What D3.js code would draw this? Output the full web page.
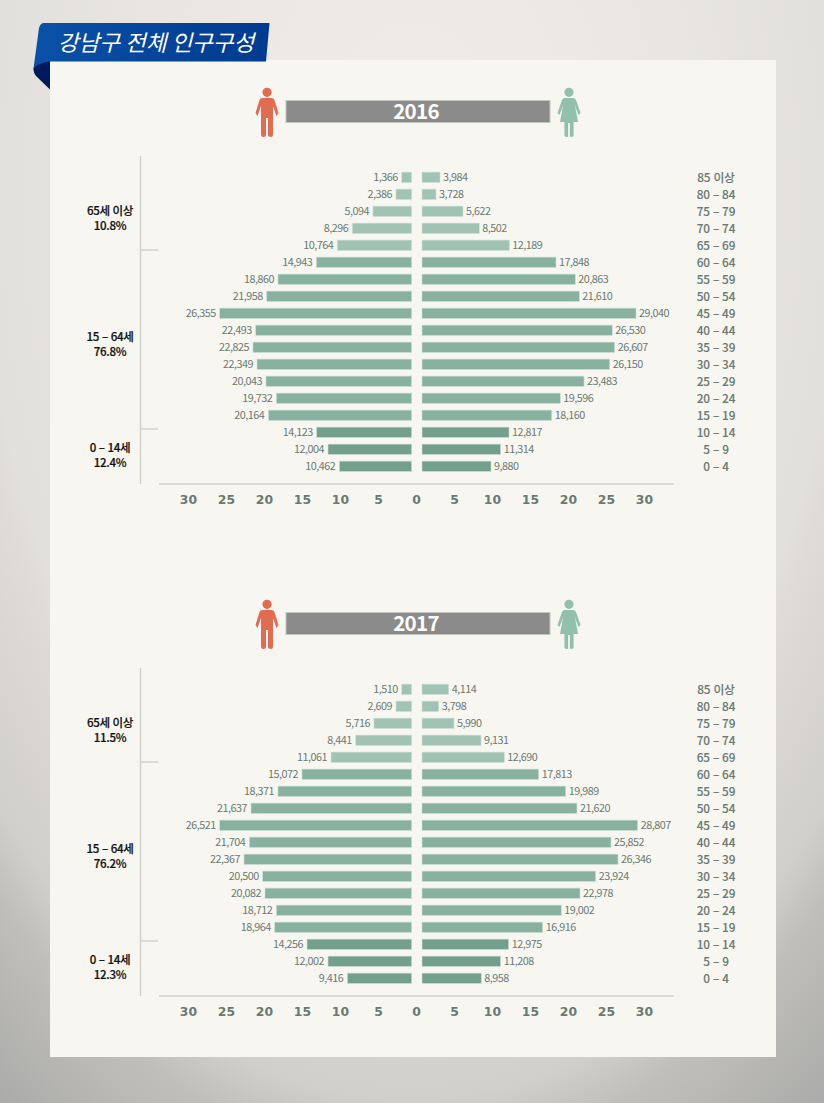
<!DOCTYPE html>
<html>
<head>
<meta charset="utf-8">
<script src="https://d3js.org/d3.v7.min.js"></script>
<style>
html, body { margin: 0; padding: 0; background: #d8d6d2; }
svg { display: block; }
text { font-family: "Noto Sans CJK KR", "Noto Sans", sans-serif; }
</style>
</head>
<body>
<div id="chart"></div>
<script>
var ages = ["85 이상","80 – 84","75 – 79","70 – 74","65 – 69","60 – 64","55 – 59","50 – 54","45 – 49",
            "40 – 44","35 – 39","30 – 34","25 – 29","20 – 24","15 – 19","10 – 14","5 – 9","0 – 4"];
var ticks = [-30,-25,-20,-15,-10,-5,0,5,10,15,20,25,30];

// printed numbers
var male2016 = [1366,2386,5094,8296,10764,14943,18860,21958,26355,22493,22825,22349,20043,19732,20164,14123,12004,10462];
var female2016 = [3984,3728,5622,8502,12189,17848,20863,21610,29040,26530,26607,26150,23483,19596,18160,12817,11314,9880];
var male2017 = [1510,2609,5716,8441,11061,15072,18371,21637,26521,21704,22367,20500,20082,18712,18964,14256,12002,9416];
var female2017 = [4114,3798,5990,9131,12690,17813,19989,21620,28807,25852,26346,23924,22978,19002,16916,12975,11208,8958];

// bar lengths as read against the axis (thousands) - the bars don't follow the printed numbers exactly
var maleBar2016 = [1.88,2.63,5.66,8.38,10.36,13.12,18.16,19.64,25.83,21.09,21.45,20.92,19.74,18.38,19.43,13.07,11.58,10.09];
var femaleBar2016 = [3.16,2.63,6.18,8.33,12.28,18.42,20.96,21.49,28.95,25.83,26.14,25.49,22.11,18.99,17.86,12.24,11.14,9.87];
var maleBar2017 = [1.88,2.63,5.53,7.93,11.18,15.0,18.16,21.71,25.83,21.93,22.63,20.17,19.87,18.38,18.59,14.34,11.58,9.04];
var femaleBar2017 = [4.3,2.99,5.0,8.55,11.62,16.14,19.7,21.18,29.17,25.66,26.58,23.64,21.58,19.12,16.67,12.2,11.14,8.59];

var groups2016 = [["65세 이상","10.8%"],["15 – 64세","76.8%"],["0 – 14세","12.4%"]];
var groups2017 = [["65세 이상","11.5%"],["15 – 64세","76.2%"],["0 – 14세","12.3%"]];

var svg = d3.select("#chart").append("svg").attr("width",824).attr("height",1103);
var defs = svg.append("defs");

// page background is a soft vignette, darkest in the bottom corners
var bg = defs.append("radialGradient").attr("id","bg").attr("gradientUnits","userSpaceOnUse")
  .attr("cx",0).attr("cy",0).attr("r",1.3)
  .attr("gradientTransform","translate(412,200) scale(560,900)");
[[0,"#efece8"],[27,"#ece9e5"],[59,"#e2e0dc"],[62,"#dedbd8"],[77,"#d1cfca"],[82,"#c0bfbc"],[95,"#acacaa"],[100,"#a8a8a6"]].forEach(function(s){
  bg.append("stop").attr("offset",s[0] + "%").attr("stop-color",s[1]);
});
var ban = defs.append("linearGradient").attr("id","banner").attr("x1",0).attr("y1",0).attr("x2",1).attr("y2",0);
ban.append("stop").attr("offset","0%").attr("stop-color","#0a51a8");
ban.append("stop").attr("offset","100%").attr("stop-color","#003a8e");

svg.append("rect").attr("width",824).attr("height",1103).attr("fill","url(#bg)");
svg.append("rect").attr("x",50).attr("y",60).attr("width",726).attr("height",997).attr("fill","#f7f6f1");

// ribbon
svg.append("path").attr("d","M50,60 L40,60 L33.5,68 Q33,73 37,77 L50,89.5 Z").attr("fill","#001a5e");
svg.append("path").attr("d","M43,23 L269.5,23 L266,61.5 L50,61.5 Q40,62 33.5,68.5 L39,28 Q40,24 43,23 Z").attr("fill","url(#banner)");
svg.append("text").attr("x",156).attr("y",42.5).attr("dy","0.36em").attr("text-anchor","middle")
  .attr("fill","#fff").attr("font-size",22.5).attr("font-style","italic").text("강남구 전체 인구구성");

var x = d3.scaleLinear().domain([-30,30]).range([188,644]);
var y = d3.scaleBand().domain(ages).range([0,306]).paddingInner(0.39).paddingOuter(0.195);
var fmt = d3.format(",");
var maleBase = 411.7, femaleBase = 422;

function barColor(i){
  if (i < 5) return "#a0c3b6";
  if (i < 15) return "#89b1a0";
  return "#759f8d";
}

function person(g, cx, color, female){
  g = g.append("g").attr("transform","translate(" + cx + ",0)").attr("fill",color);
  g.append("circle").attr("cx",0).attr("cy",92.3).attr("r",4.6);
  if (female){
    g.append("path").attr("d","M-4.5,98 L4.5,98 Q6,98 7,100 L11.5,113 L9.5,115 L6,105.5 L9,122 L2.6,122 L2.6,135 Q2.6,137 0.9,137 L0.9,123 L-0.9,123 L-0.9,137 Q-2.6,137 -2.6,135 L-2.6,122 L-9,122 L-6,105.5 L-9.5,115 L-11.5,113 L-7,100 Q-6,98 -4.5,98 Z");
    g.append("path").attr("d","M-4.6,121 L-1,121 L-1,135 Q-1,137 -2.8,137 Q-4.6,137 -4.6,135 Z M1,121 L4.6,121 L4.6,135 Q4.6,137 2.8,137 Q1,137 1,135 Z");
  } else {
    g.append("path").attr("d","M-4.5,98 L4.5,98 Q6.5,98 7.5,100 L11.5,113 L9.5,116 L6,106 L6,135 Q6,137 3.6,137 Q1,137 1,135 L1,118 L-1,118 L-1,135 Q-1,137 -3.6,137 Q-6,137 -6,135 L-6,106 L-9.5,116 L-11.5,113 L-7.5,100 Q-6.5,98 -4.5,98 Z");
  }
}

function drawYear(year, offset, male, female, maleBar, femaleBar, groups, groupY){
  var g = svg.append("g").attr("transform","translate(0," + offset + ")");

  person(g, 267, "#e06c54", false);
  person(g, 569, "#93bfae", true);
  g.append("rect").attr("x",286).attr("y",100.5).attr("width",264).attr("height",22)
    .attr("fill","#8b8b8b").attr("stroke","#c6c6c1").attr("stroke-width",1);
  g.append("text").attr("x",416).attr("y",111.5).attr("dy","0.36em").attr("text-anchor","middle")
    .attr("fill","#fff").attr("font-size",20.5).attr("font-weight",700).attr("letter-spacing",-0.7).text(year);

  // left bracket and baseline
  g.append("line").attr("x1",140.5).attr("x2",140.5).attr("y1",156).attr("y2",484).attr("stroke","#d3d3ce").attr("stroke-width",1.5);
  [250,429].forEach(function(t){
    g.append("line").attr("x1",140).attr("x2",158).attr("y1",t).attr("y2",t).attr("stroke","#d3d3ce").attr("stroke-width",1.5);
  });
  g.append("line").attr("x1",159).attr("x2",674).attr("y1",484).attr("y2",484).attr("stroke","#d3d3ce").attr("stroke-width",1.5);

  var rows = g.append("g").attr("transform","translate(0,168.8)");

  rows.selectAll("rect.male").data(ages).enter().append("rect").attr("class","male")
    .attr("x",function(d,i){ return x(-maleBar[i]); })
    .attr("y",function(d){ return y(d); })
    .attr("width",function(d,i){ return maleBase - x(-maleBar[i]); })
    .attr("height",y.bandwidth())
    .attr("fill",function(d,i){ return barColor(i); })
    .attr("stroke","#cfe0d8").attr("stroke-width",0.6);
  rows.selectAll("rect.female").data(ages).enter().append("rect").attr("class","female")
    .attr("x",femaleBase)
    .attr("y",function(d){ return y(d); })
    .attr("width",function(d,i){ return x(femaleBar[i]) - femaleBase; })
    .attr("height",y.bandwidth())
    .attr("fill",function(d,i){ return barColor(i); })
    .attr("stroke","#cfe0d8").attr("stroke-width",0.6);

  var label = function(sel){
    sel.attr("y",function(d){ return y(d) + y.bandwidth()/2; }).attr("dy","0.36em")
      .attr("font-size",10.8).attr("fill","#6a7a72").attr("letter-spacing",-0.5);
  };
  rows.selectAll("text.male").data(ages).enter().append("text").attr("class","male").call(label)
    .attr("x",function(d,i){ return x(-maleBar[i]) - 4; }).attr("text-anchor","end")
    .text(function(d,i){ return fmt(male[i]); });
  rows.selectAll("text.female").data(ages).enter().append("text").attr("class","female").call(label)
    .attr("x",function(d,i){ return x(femaleBar[i]) + 3; })
    .text(function(d,i){ return fmt(female[i]); });
  rows.selectAll("text.age").data(ages).enter().append("text").attr("class","age")
    .attr("x",716).attr("y",function(d){ return y(d) + y.bandwidth()/2 + 0.5; }).attr("dy","0.36em")
    .attr("text-anchor","middle").attr("font-size",11.8).attr("font-weight",500).attr("fill","#6a7a72")
    .attr("stroke","#6a7a72").attr("stroke-width",0.1)
    .attr("word-spacing",0.6).attr("letter-spacing",-0.2).text(function(d){ return d; });

  // age group summary
  groups.forEach(function(p,i){
    g.append("text").attr("x",110).attr("y",groupY[i]).attr("dy","0.36em").attr("text-anchor","middle")
      .attr("font-size",11.5).attr("font-weight",500).attr("fill","#111").attr("stroke","#111").attr("stroke-width",0.2)
      .attr("word-spacing",0.6).attr("letter-spacing",-0.3).text(p[0]);
    g.append("text").attr("x",110).attr("y",groupY[i] + 14.5).attr("dy","0.36em").attr("text-anchor","middle")
      .attr("font-size",11.5).attr("font-weight",500).attr("fill","#111").attr("stroke","#111").attr("stroke-width",0.2)
      .attr("letter-spacing",-0.3).text(p[1]);
  });

  var axis = d3.axisBottom(x).tickValues(ticks).tickSize(0).tickPadding(0)
    .tickFormat(function(d){ return Math.abs(d); });
  var ax = g.append("g").attr("transform","translate(0,495.5)").call(axis);
  ax.select(".domain").remove();
  ax.selectAll("text").attr("font-size",12.4).attr("font-weight",700).attr("letter-spacing",0.1)
    .attr("fill","#6a7a72").attr("style","font-family:'DejaVu Sans'");
}

drawYear("2016", 0, male2016, female2016, maleBar2016, femaleBar2016, groups2016, [211,337,448]);
drawYear("2017", 512, male2017, female2017, maleBar2017, femaleBar2017, groups2017, [211,337,448]);
</script>
</body>
</html>
